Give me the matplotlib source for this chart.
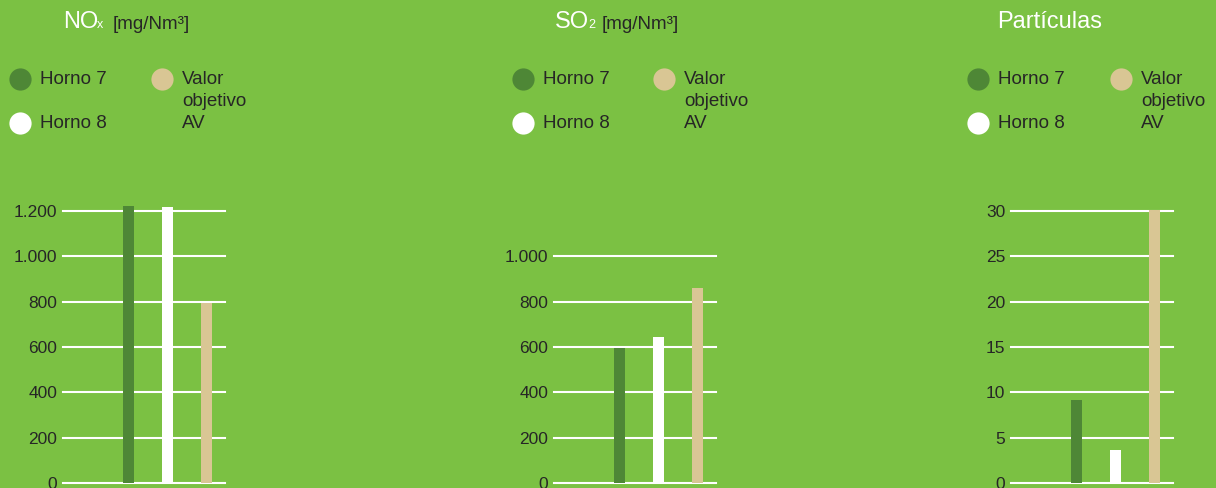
import matplotlib.pyplot as plt

plt.rcParams['font.family'] = ['Liberation Sans', 'DejaVu Sans']

# data
series = ['Horno 7', 'Horno 8', 'Valor objetivo AV']
nox = [1223, 1216, 795]
so2 = [595, 646, 861]
particulas = [9.1, 3.6, 30.1]

nox_ticks = [0, 200, 400, 600, 800, 1000, 1200]
nox_labels = ['0', '200', '400', '600', '800', '1.000', '1.200']
so2_ticks = [0, 200, 400, 600, 800, 1000]
so2_labels = ['0', '200', '400', '600', '800', '1.000']
par_ticks = [0, 5, 10, 15, 20, 25, 30]
par_labels = ['0', '5', '10', '15', '20', '25', '30']

bg = '#7bc143'
colors = ['#4e8736', '#ffffff', '#d9c694']
txt = '#262626'

W, H = 1216, 488
fig = plt.figure(figsize=(W / 100, H / 100), dpi=100, facecolor=bg)


def make_panel(left, values, ticks, labels, ymax):
    ax = fig.add_axes([left / W, 5 / H, 162 / W, 272 / H])
    ax.patch.set_alpha(0)
    for t in ticks:
        ax.axhline(t, color='white', lw=1.5, zorder=0, clip_on=False)
    ax.bar([0, 1, 2], values, width=0.286, color=colors, zorder=2, clip_on=False)
    ax.set_xlim(-1.71, 2.49)
    ax.set_ylim(0, ymax)
    ax.set_yticks(ticks)
    ax.set_yticklabels(labels, fontsize=12.5, color=txt)
    ax.tick_params(axis='y', length=0, pad=4)
    ax.set_xticks([])
    for s in ax.spines.values():
        s.set_visible(False)
    return ax


make_panel(63, nox, nox_ticks, nox_labels, 1200)
make_panel(554, so2, so2_ticks, so2_labels, 1200)
make_panel(1011, particulas, par_ticks, par_labels, 30)

# overlay in pixel coordinates for titles and legends
ov = fig.add_axes([0, 0, 1, 1], zorder=5)
ov.set_xlim(0, W)
ov.set_ylim(H, 0)
ov.axis('off')
ov.patch.set_alpha(0)

# titles
ov.text(63, 28.5, 'NO', color='white', fontsize=17, va='baseline')
ov.text(97, 27.5, 'x', color='white', fontsize=9, va='baseline')
ov.text(113, 29, '[mg/Nm³]', color=txt, fontsize=13.5, va='baseline')

ov.text(555, 28.5, 'SO', color='white', fontsize=17, va='baseline')
ov.text(588, 27.5, '2', color='white', fontsize=9, va='baseline')
ov.text(602, 29, '[mg/Nm³]', color=txt, fontsize=13.5, va='baseline')

ov.text(997, 28.5, 'Partículas', color='white', fontsize=17, va='baseline')

# legends
for cx, vx in [(20, 162), (523, 664), (978, 1121)]:
    ov.plot(cx, 79, 'o', ms=16, color=colors[0], mec='none')
    ov.plot(cx, 123, 'o', ms=16, color=colors[1], mec='none')
    ov.plot(vx, 79, 'o', ms=16, color=colors[2], mec='none')
    ov.text(cx + 20, 84, series[0], color=txt, fontsize=13.5, va='baseline')
    ov.text(cx + 20, 128, series[1], color=txt, fontsize=13.5, va='baseline')
    for i, line in enumerate(['Valor', 'objetivo', 'AV']):
        ov.text(vx + 20, 84 + 22 * i, line, color=txt, fontsize=13.5, va='baseline')

fig.savefig('out.png', dpi=100, facecolor=bg)
